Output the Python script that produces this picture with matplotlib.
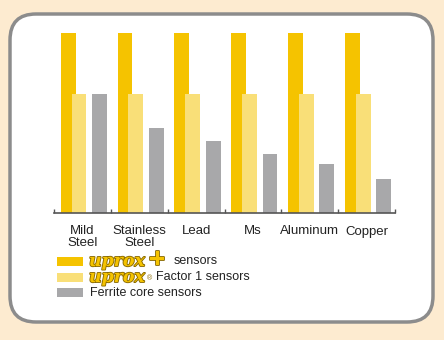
import numpy as np
import matplotlib
matplotlib.use("Agg")
import matplotlib.pyplot as plt
import matplotlib.patheffects as pe
from matplotlib.patches import FancyBboxPatch, Rectangle

# datos (alcance relativo)
metales = ["Mild\nSteel", "Stainless\nSteel", "Lead", "Ms", "Aluminum", "Copper"]
uprox_plus = [100, 100, 100, 100, 100, 100]
uprox_f1 = [66, 66, 66, 66, 66, 66]
ferrita = [66, 47, 40, 33, 27, 19]

c_plus = "#f5c300"
c_f1 = "#f9df78"
c_fer = "#a8a8aa"
c_txt = "#222222"

W, H = 444, 340
fig = plt.figure(figsize=(W / 100, H / 100), dpi=100, facecolor="#fdebd0")
plt.rcParams["font.family"] = ["Liberation Sans", "DejaVu Sans"]

# eje de fondo en pixeles para el recuadro y la leyenda
bg = fig.add_axes([0, 0, 1, 1])
bg.set_xlim(0, W)
bg.set_ylim(H, 0)
bg.axis("off")
caja = FancyBboxPatch((10, 14), 423, 308, boxstyle="round,pad=0,rounding_size=26",
                      facecolor="white", edgecolor="#8c8c8c", linewidth=2.5)
bg.add_patch(caja)

# grafico de barras
ax = fig.add_axes([54 / W, 1 - 213 / H, 341 / W, 180 / H])
ax.patch.set_alpha(0)
x = np.arange(len(metales))
ax.bar(x + 0.12, uprox_plus, width=0.26, align="edge", color=c_plus)
ax.bar(x + 0.31, uprox_f1, width=0.26, align="edge", color=c_f1)
ax.bar(x + 0.67, ferrita, width=0.26, align="edge", color=c_fer)
ax.set_xlim(0, len(metales))
ax.set_ylim(0, 100)
for s in ["top", "right", "left"]:
    ax.spines[s].set_visible(False)
ax.spines["bottom"].set_color("#555555")
ax.spines["bottom"].set_linewidth(1.2)
ax.set_yticks([])
ax.set_xticks(x + 0.5)
ax.set_xticklabels(metales, fontsize=9.5, color=c_txt, linespacing=0.95)
ax.tick_params(axis="x", which="major", length=0, pad=9)
ax.set_xticks(np.arange(len(metales) + 1), minor=True)
ax.tick_params(axis="x", which="minor", length=3, direction="in", color="#555555", width=1)

# leyenda hecha a mano (con el logo uprox)
filas = [261.5, 277.5, 292.5]
for y, col in zip(filas, [c_plus, c_f1, c_fer]):
    bg.add_patch(Rectangle((57, y - 4.5), 26, 9, facecolor=col, edgecolor="none"))

logo_fx = [pe.withStroke(linewidth=1.3, foreground="#8a6a00")]
bg.text(89, filas[0], "uprox", fontsize=12.5, fontweight="bold", fontstyle="italic",
        family="DejaVu Serif", color=c_plus, va="center", path_effects=logo_fx)
bg.text(149, filas[0] - 1, "+", fontsize=20, fontweight="bold", color=c_plus,
        va="center", path_effects=logo_fx)
bg.text(174, filas[0], "sensors", fontsize=9, color=c_txt, va="center")
bg.text(89, filas[1], "uprox", fontsize=12.5, fontweight="bold", fontstyle="italic",
        family="DejaVu Serif", color=c_plus, va="center", path_effects=logo_fx)
bg.text(147, filas[1] + 1, "®", fontsize=5, color="#8a6a00", va="center")
bg.text(156, filas[1], "Factor 1 sensors", fontsize=9, color=c_txt, va="center")
bg.text(90, filas[2], "Ferrite core sensors", fontsize=9, color=c_txt, va="center")

fig.savefig("out.png", dpi=100, facecolor=fig.get_facecolor())
